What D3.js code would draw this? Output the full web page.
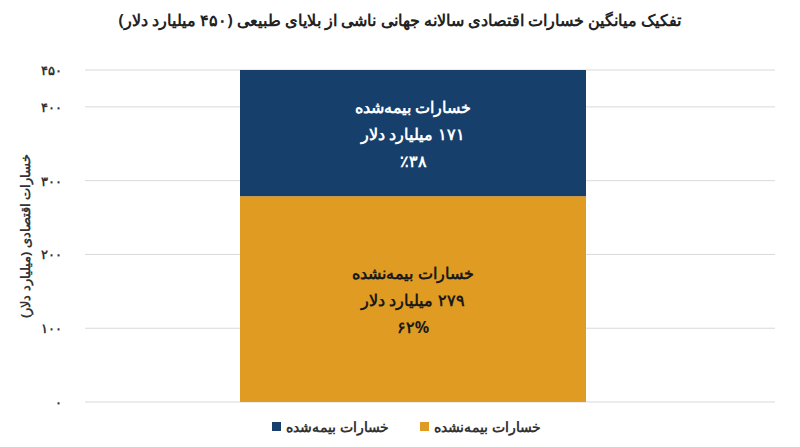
<!DOCTYPE html>
<html><head><meta charset="utf-8">
<script src="https://cdn.jsdelivr.net/npm/d3@7"></script>
<style>body{margin:0;background:#fff}text{font-family:"Noto Sans",sans-serif}</style>
</head><body><svg id="c" width="800" height="447"></svg>
<script>
const title = "تفکیک میانگین خسارات اقتصادی سالانه جهانی ناشی از بلایای طبیعی (۴۵۰ میلیارد دلار)";
const yLabel = "خسارات اقتصادی (میلیارد دلار)";
const series = ["خسارات بیمه‌نشده", "خسارات بیمه‌شده"];
const values = [279, 171];
const labelLines = [["خسارات بیمه‌نشده","۲۷۹ میلیارد دلار","۶۲%"],["خسارات بیمه‌شده","۱۷۱ میلیارد دلار","٪۳۸"]];
const colors = ["#E09B22", "#173F6C"];
const ticks = [0,100,200,300,400,450];
const tickLabels = ["۰","۱۰۰","۲۰۰","۳۰۰","۴۰۰","۴۵۰"];
const legendOrder = [1,0];

const svg = d3.select("#c");
const y = d3.scaleLinear().domain([0,450]).range([402,70]);
const x = d3.scaleBand().domain(["all"]).range([240,586]).padding(0);

svg.append("text").attr("x",400).attr("y",26).attr("text-anchor","middle")
  .attr("font-size",16).attr("font-weight","bold").attr("fill","#222").attr("direction","rtl").text(title);

svg.append("g").selectAll("line").data(ticks).join("line")
  .attr("x1",85).attr("x2",775).attr("y1",d=>y(d)).attr("y2",d=>y(d))
  .attr("stroke","#d9d9d9");
svg.append("g").selectAll("text").data(ticks).join("text")
  .attr("x",62).attr("y",d=>y(d)+5).attr("text-anchor","end")
  .attr("font-size",13).attr("font-weight","bold").attr("fill","#333").text((d,i)=>tickLabels[i]);

svg.append("text").attr("transform","translate(30,236) rotate(-90)").attr("text-anchor","middle")
  .attr("font-size",13).attr("font-weight","bold").attr("fill","#333").attr("direction","rtl").text(yLabel);

let acc=0;
const stacks = values.map(v=>{const s={y0:acc,y1:acc+v};acc+=v;return s;});
svg.append("g").selectAll("rect").data(stacks).join("rect")
  .attr("x",x("all")).attr("width",x.bandwidth())
  .attr("y",d=>y(d.y1)).attr("height",d=>y(d.y0)-y(d.y1)).attr("fill",(d,i)=>colors[i]);

stacks.forEach((s,i)=>{
  const cy=(y(s.y0)+y(s.y1))/2;
  const t=svg.append("text").attr("text-anchor","middle").attr("font-size",16).attr("font-weight","bold")
    .attr("fill",i===0?"#1a1a1a":"#fff").attr("direction","rtl");
  labelLines[i].forEach((l,j)=>t.append("tspan").attr("x",x("all")+x.bandwidth()/2).attr("y",cy-20+j*27).text(l));
});

const lx=[272,420];
legendOrder.forEach((si,k)=>{
  svg.append("rect").attr("x",lx[k]).attr("y",422).attr("width",9).attr("height",9).attr("fill",colors[si]);
  svg.append("text").attr("x",lx[k]+14).attr("y",432).attr("font-size",14).attr("font-weight","bold")
    .attr("fill","#333").attr("text-anchor","start").attr("direction","ltr").text(series[si]);
});
</script></body></html>
